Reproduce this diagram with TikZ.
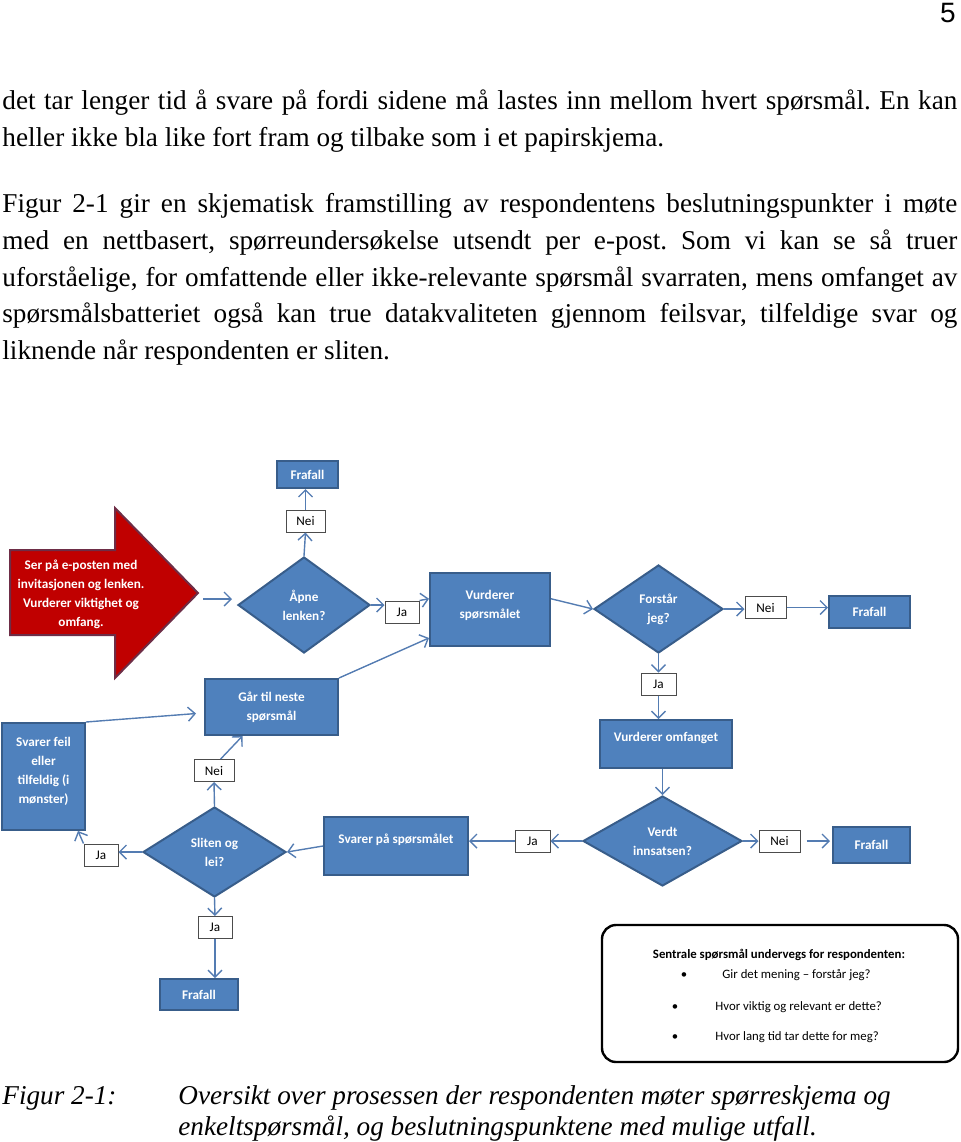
\documentclass[tikz,border=0pt]{standalone}
\usepackage{fontspec}
\setmainfont{Liberation Serif}
\setsansfont{Liberation Sans}
\newfontfamily\calibri{Carlito}
\usetikzlibrary{shapes.geometric,arrows.meta}
\definecolor{boxblue}{RGB}{79,129,189}
\definecolor{boxline}{RGB}{56,93,138}
\definecolor{arrowred}{RGB}{192,0,0}
\definecolor{arrowline}{RGB}{110,45,70}
\definecolor{connblue}{RGB}{84,124,178}
\newcommand\pagetext{\fontsize{13.6}{18}\selectfont}
\newcommand\flowtext{\calibri\bfseries\fontsize{6.6}{9.5}\selectfont}
\newcommand\labeltext{\calibri\fontsize{6.6}{8}\selectfont}
\newcommand\legtext{\calibri\fontsize{6.4}{8}\selectfont}
\newcommand\jline[1]{\makebox[477.5pt][s]{#1}}
\frenchspacing

\begin{document}
\begin{tikzpicture}[x=0.5pt,y=-0.5pt,
  blok/.style={draw=boxline, line width=1pt, fill=boxblue, text=white, font=\flowtext, align=center, inner sep=1pt},
  valg/.style={diamond, aspect=1.5, draw=boxline, line width=1pt, fill=boxblue, text=white, font=\flowtext, align=center, inner sep=0pt},
  svar/.style={draw=black!70, line width=0.5pt, fill=white, font=\labeltext, minimum height=11pt, inner sep=1pt},
  pil/.style={draw=connblue, line width=0.7pt, -{Straight Barb[length=3.5pt,width=7pt]}},
  tekst/.style={anchor=base west, inner sep=0pt, font=\pagetext}]
\useasboundingbox (0,0) rectangle (960,1142);

% Page number
\node[anchor=base east, inner sep=0pt, font=\sffamily\fontsize{14}{16}\selectfont] (sidetall) at (956,22) {5};

% Running text
\node[tekst] (l1) at (2,109) {\jline{det tar lenger tid å svare på fordi sidene må lastes inn mellom hvert spørsmål. En kan}};
\node[tekst] (l2) at (2,146) {heller ikke bla like fort fram og tilbake som i et papirskjema.};
\node[tekst] (l3) at (2,212) {\jline{Figur 2-1 gir en skjematisk framstilling av respondentens beslutningspunkter i møte}};
\node[tekst] (l4) at (2,249) {\jline{med en nettbasert, spørreundersøkelse utsendt per e-post. Som vi kan se så truer}};
\node[tekst] (l5) at (2,286) {\jline{uforståelige, for omfattende eller ikke-relevante spørsmål svarraten, mens omfanget av}};
\node[tekst] (l6) at (2,322) {\jline{spørsmålsbatteriet også kan true datakvaliteten gjennom feilsvar, tilfeldige svar og}};
\node[tekst] (l7) at (2,359) {liknende når respondenten er sliten.};

% Start: red arrow
\filldraw[fill=arrowred, draw=arrowline, line width=1pt] (10,550) -- (115,550) -- (115,508) -- (198,593) -- (115,678) -- (115,635) -- (10,635) -- cycle;
\node[font=\flowtext, text=white, align=center] (start) at (81,594) {Ser på e-posten med\\invitasjonen og lenken.\\Vurderer viktighet og\\omfang.};
\coordinate (spiss) at (203,599);

% Top row
\node[valg, minimum width=66pt, minimum height=48pt] (apne) at (304,605) {Åpne\\lenken?};
\node[svar, minimum width=19.5pt] (neiA) at (305.5,521) {Nei};
\node[blok, minimum width=30.5pt, minimum height=13.5pt] (fraA) at (307.5,474.5) {Frafall};
\node[svar, minimum width=17pt] (jaA) at (402,612) {Ja};
\node[blok, minimum width=60pt, minimum height=36.5pt, text depth=5pt] (vurdS) at (490,609.5) {Vurderer\\spørsmålet};
\node[valg, minimum width=64.5pt, minimum height=44pt] (forstar) at (658.5,609) {Forstår\\jeg?};
\node[svar, minimum width=20.5pt] (neiB) at (765.5,607.5) {Nei};
\node[blok, minimum width=40.5pt, minimum height=16pt] (fraB) at (869.5,612) {Frafall};

% Right column
\node[svar, minimum width=17.5pt] (jaB) at (658.5,684) {Ja};
\node[blok, minimum width=66pt, minimum height=24pt, text depth=7pt] (vurdO) at (666,744) {Vurderer omfanget};
\node[valg, minimum width=79.5pt, minimum height=45pt] (verdt) at (662.5,841) {Verdt\\innsatsen?};
\node[svar, minimum width=20.5pt] (neiC) at (779.5,841) {Nei};
\node[blok, minimum width=38.5pt, minimum height=18pt] (fraC) at (871.5,845) {Frafall};
\node[svar, minimum width=17.5pt] (jaC) at (532.5,841) {Ja};

% Bottom row
\node[blok, minimum width=72pt, minimum height=29pt, text depth=7pt] (svarP) at (396,846) {Svarer på spørsmålet};
\node[valg, minimum width=71.5pt, minimum height=45pt] (sliten) at (214.5,852) {Sliten og\\lei?};
\node[svar, minimum width=20pt] (neiD) at (214,770.5) {Nei};
\node[blok, minimum width=66.5pt, minimum height=28pt] (gaa) at (271.5,707) {Går til neste\\spørsmål};
\node[blok, minimum width=41.5pt, minimum height=53.5pt, text depth=6pt] (feil) at (43.5,776.5) {Svarer feil\\eller\\tilfeldig (i\\mønster)};
\node[svar, minimum width=17pt] (jaD) at (101,855) {Ja};
\node[svar, minimum width=17pt] (jaE) at (215,927.5) {Ja};
\node[blok, minimum width=39pt, minimum height=15.5pt] (fraD) at (199,994.5) {Frafall};

% Connectors
\draw[pil, shorten >=2.5pt] (spiss) -- (spiss -| apne.west);
\draw[pil] (apne.north) -- (neiA.south);
\draw[pil] (neiA.north) -- (neiA.north |- fraA.south);
\draw[pil] (apne.east) -- (apne.east -| jaA.west);
\draw[pil] (jaA.north east) -- (vurdS.170);
\draw[pil] (vurdS.10) -- (forstar.west);
\draw[pil] (forstar.east) -- (forstar.east -| neiB.west);
\draw[pil] (neiB.east) -- (neiB.east -| fraB.west);
\draw[pil] (forstar.south) -- (jaB.north);
\draw[pil] (jaB.south) -- (jaB.south |- vurdO.north);
\draw[pil] (vurdO.south -| verdt.north) -- (verdt.north);
\draw[pil] (verdt.east) -- (neiC.west);
\draw[pil, shorten <=3pt, shorten >=1pt] (neiC.east) -- (neiC.east -| fraC.west);
\draw[pil] (verdt.west) -- (jaC.east);
\draw[pil] (jaC.west) -- (jaC.west -| svarP.east);
\draw[pil] (svarP.west) -- (sliten.east);
\draw[pil] (sliten.north) -- (neiD.south);
\draw[pil] (neiD.60) -- (gaa.225);
\draw[pil] (gaa.north east) -- (vurdS.205);
\draw[pil, shorten >=4pt] (feil.north east) -- (gaa.185);
\draw[pil] (sliten.west) -- (sliten.west -| jaD.east);
\draw[pil] (jaD.north west) -- ([xshift=-4pt]feil.south east);
\draw[pil] (sliten.south) -- (jaE.north);
\draw[pil] (jaE.south) -- (jaE.south |- fraD.north);

% Legend
\node[draw, line width=1.2pt, rounded corners=7pt, minimum width=178pt, minimum height=68.5pt] (boks) at (780,993.5) {};
\node[font=\legtext\bfseries] (tittel) at (779,955) {Sentrale spørsmål undervegs for respondenten:};
\node[font=\legtext] (p1) at (684,976) {•};
\node[font=\legtext] (p2) at (675,1008) {•};
\node[font=\legtext] (p3) at (675,1038) {•};
\node[font=\legtext, anchor=west, inner sep=0pt] (s1) at (722,975) {Gir det mening – forstår jeg?};
\node[font=\legtext, anchor=west, inner sep=0pt] (s2) at (715,1007) {Hvor viktig og relevant er dette?};
\node[font=\legtext, anchor=west, inner sep=0pt] (s3) at (715,1037) {Hvor lang tid tar dette for meg?};

% Caption
\node[tekst, font=\pagetext\itshape] (fig) at (2,1104) {Figur 2-1:};
\node[tekst, font=\pagetext\itshape] (cap1) at (178,1104) {Oversikt over prosessen der respondenten møter spørreskjema og};
\node[tekst, font=\pagetext\itshape] (cap2) at (178,1135) {enkeltspørsmål, og beslutningspunktene med mulige utfall.};
\end{tikzpicture}
\end{document}
